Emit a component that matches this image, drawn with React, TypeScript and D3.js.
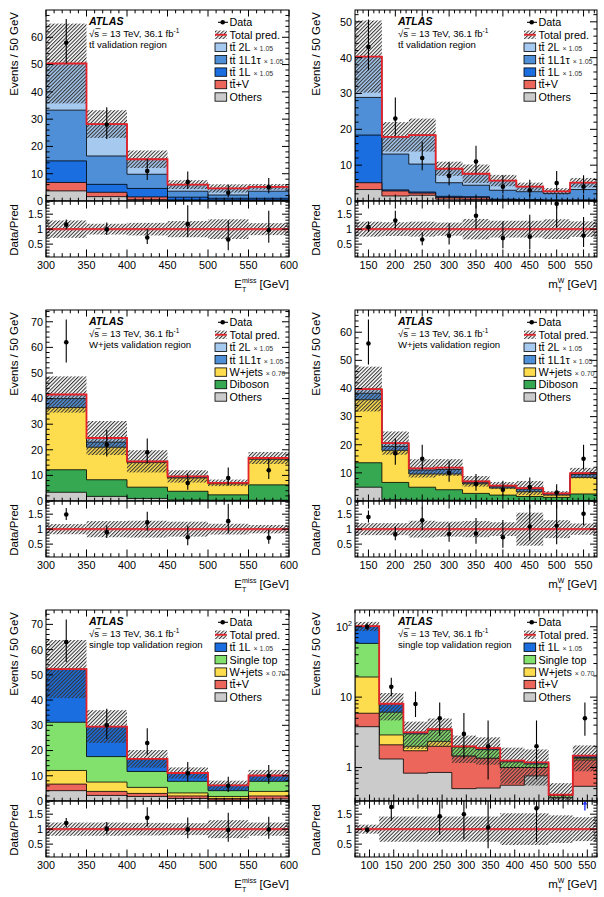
import React from 'react';
import * as d3 from 'd3';

// ---------------- Panel 1: ttbar VR, ETmiss ----------------
const p1Edges = [300, 350, 400, 450, 500, 550, 600];
const p1Others = [3.7, 1.6, 0.5, 0.1, 0.1, 0.1];
const p1TtV = [3.1, 1.6, 1.0, 0.3, 0.3, 0.3];
const p1Tt1L = [7.9, 2.9, 3.1, 1.0, 0.6, 0.6];
const p1Tt1L1tau = [18.6, 10.4, 5.2, 2.2, 1.2, 2.6];
const p1Tt2L = [17.1, 11.7, 5.5, 2.4, 2.4, 1.6];
const p1Data = [58, 28, 11, 7, 3, 5];
const p1RelUnc = [0.29, 0.18, 0.21, 0.27, 0.33, 0.2];

// ---------------- Panel 2: ttbar VR, mT^W ----------------
const p2Edges = [125, 175, 225, 275, 325, 375, 425, 475, 525, 575];
const p2Others = [3.2, 1.4, 1.6, 0.5, 0.4, 0.2, 0.1, 0.1, 0.1];
const p2TtV = [1.9, 1.4, 0.6, 0.5, 0.5, 0.1, 0.1, 0.1, 0.1];
const p2Tt1L = [13.3, 0.3, 0.3, 0.3, 0.3, 0.2, 0.2, 0.1, 0.1];
const p2Tt1L1tau = [10.5, 10.0, 7.8, 3.8, 3.2, 2.5, 2.2, 1.8, 2.9];
const p2Tt2L = [11.4, 4.8, 8.1, 3.9, 3.2, 2.7, 1.4, 0.6, 1.9];
const p2Data = [43, 23, 12, 7, 11, 4, 3, 5, 4];
const p2RelUnc = [0.25, 0.23, 0.25, 0.22, 0.34, 0.28, 0.28, 0.33, 0.26];

// ---------------- Panel 3: W+jets VR, ETmiss ----------------
const p3Edges = [300, 350, 400, 450, 500, 550, 600];
const p3Others = [3.4, 1.8, 1.0, 0.4, 0.3, 0.3];
const p3Diboson = [8.8, 6.5, 4.4, 3.4, 2.1, 6.0];
const p3Wjets = [24.3, 12.7, 9.6, 5.2, 4.3, 10.0];
const p3Tt1L1tau = [3.5, 2.0, 0.3, 0.4, 0.2, 0.3];
const p3Tt2L = [1.6, 1.6, 0.2, 0.2, 0.2, 0.2];
const p3Data = [62, 22, 19, 7, 9, 12];
const p3RelUnc = [0.17, 0.27, 0.28, 0.25, 0.18, 0.14];

// ---------------- Panel 4: W+jets VR, mT^W ----------------
const p4Edges = [125, 175, 225, 275, 325, 375, 425, 475, 525, 575];
const p4Others = [4.9, 0.5, 0.3, 0.3, 0.2, 0.1, 0.1, 0.1, 0.2];
const p4Diboson = [8.7, 6.1, 4.6, 3.7, 2.5, 2.0, 1.5, 1.2, 2.3];
const p4Wjets = [22.4, 11.4, 4.7, 5.6, 3.4, 2.5, 1.7, 0.8, 5.9];
const p4Tt1L1tau = [2.3, 1.4, 1.4, 1.6, 0.5, 0.5, 0.9, 0.4, 1.0];
const p4Tt2L = [1.5, 1.2, 0.6, 0.7, 0.4, 0.4, 0.4, 0.2, 0.5];
const p4Data = [56, 17, 15, 10, 6, 4, 5, 3, 15];
const p4RelUnc = [0.2, 0.2, 0.28, 0.25, 0.27, 0.23, 0.55, 0.3, 0.19];

// ---------------- Panel 5: single top VR, ETmiss ----------------
const p5Edges = [300, 350, 400, 450, 500, 550, 600];
const p5Others = [4.1, 2.2, 1.8, 1.0, 0.4, 0.8];
const p5TtV = [2.6, 1.6, 1.2, 1.0, 0.6, 1.2];
const p5Wjets = [5.4, 3.7, 2.4, 1.2, 0.8, 1.8];
const p5SingleTop = [19.1, 10.1, 6.3, 4.6, 2.3, 4.0];
const p5Tt1L = [21.1, 11.9, 5.0, 3.3, 2.1, 2.3];
const p5Data = [63, 30, 23, 11, 6, 10];
const p5RelUnc = [0.22, 0.22, 0.21, 0.2, 0.3, 0.22];

// ---------------- Panel 6: single top VR, mT^W (log) ----------------
const p6Edges = [70, 120, 170, 220, 270, 320, 370, 420, 470, 520, 570];
const p6Others = [3.8, 1.32, 0.83, 0.85, 0.5, 0.51, 0.56, 0.76, 0.37, 0.54];
const p6TtV = [2.1, 0.78, 0.9, 1.15, 0.95, 0.84, 0.44, 0.24, 0, 0.74];
const p6Wjets = [13.4, 0.8, 0.27, 0.35, 0, 0, 0, 0, 0, 0.07];
const p6SingleTop = [38.7, 3.2, 1.0, 1.05, 0.5, 0.44, 0.2, 0.12, 0.03, 0.03];
const p6Tt1L = [44, 1.95, 0.16, 0.1, 0.05, 0.1, 0.05, 0.06, 0.01, 0.09];
const p6Data = [100, 14, 8, 5, 3, 2, 0, 2, 0, 5];
const p6RelUnc = [0.15, 0.42, 0.42, 0.42, 0.42, 0.42, 0.53, 0.53, 0.46, 0.4];
const p6ArrowBins = [9];

// ---------------- Ticks ----------------
const metTicks = [300, 350, 400, 450, 500, 550, 600];
const mtwTicks = [150, 200, 250, 300, 350, 400, 450, 500, 550];
const mtwTicksST = [100, 150, 200, 250, 300, 350, 400, 450, 500, 550];
const yTicks60 = [0, 10, 20, 30, 40, 50, 60];
const yTicks50 = [0, 10, 20, 30, 40, 50];
const yTicks70 = [0, 10, 20, 30, 40, 50, 60, 70];
const yTicksLog = [1, 10, 100];
const ratioTicks = [0.5, 1, 1.5];

// ---------------- Colours ----------------
const COL_2L = '#a6c9f0';
const COL_1L1TAU = '#4f8fd8';
const COL_1L = '#1b6ee0';
const COL_TTV = '#ec665c';
const COL_OTHERS = '#cbcbcb';
const COL_WJETS = '#fddc4e';
const COL_DIBOSON = '#36a852';
const COL_SINGLETOP = '#82e06c';
const COL_RED = '#e3222a';

const TT = 't' + 't\u0304';

const panels = [
  {
    col: 0, row: 0, edges: p1Edges, xTicks: metTicks, xTitle: 'met', yMax: 70, yTicks: yTicks60,
    region: TT + ' validation region', data: p1Data, rel: p1RelUnc, arrows: [],
    comps: [
      { label: 'Others', color: COL_OTHERS, values: p1Others },
      { label: TT + '+V', color: COL_TTV, values: p1TtV },
      { label: TT + ' 1L', factor: '1.05', color: COL_1L, values: p1Tt1L },
      { label: TT + ' 1L1\u03c4', factor: '1.05', color: COL_1L1TAU, values: p1Tt1L1tau },
      { label: TT + ' 2L', factor: '1.05', color: COL_2L, values: p1Tt2L },
    ],
  },
  {
    col: 1, row: 0, edges: p2Edges, xTicks: mtwTicks, xTitle: 'mtw', yMax: 53.3, yTicks: yTicks50,
    region: TT + ' validation region', data: p2Data, rel: p2RelUnc, arrows: [],
    comps: [
      { label: 'Others', color: COL_OTHERS, values: p2Others },
      { label: TT + '+V', color: COL_TTV, values: p2TtV },
      { label: TT + ' 1L', factor: '1.05', color: COL_1L, values: p2Tt1L },
      { label: TT + ' 1L1\u03c4', factor: '1.05', color: COL_1L1TAU, values: p2Tt1L1tau },
      { label: TT + ' 2L', factor: '1.05', color: COL_2L, values: p2Tt2L },
    ],
  },
  {
    col: 0, row: 1, edges: p3Edges, xTicks: metTicks, xTitle: 'met', yMax: 74.6, yTicks: yTicks70,
    region: 'W+jets validation region', data: p3Data, rel: p3RelUnc, arrows: [],
    comps: [
      { label: 'Others', color: COL_OTHERS, values: p3Others },
      { label: 'Diboson', color: COL_DIBOSON, values: p3Diboson },
      { label: 'W+jets', factor: '0.70', color: COL_WJETS, values: p3Wjets },
      { label: TT + ' 1L1\u03c4', factor: '1.05', color: COL_1L1TAU, values: p3Tt1L1tau },
      { label: TT + ' 2L', factor: '1.05', color: COL_2L, values: p3Tt2L },
    ],
  },
  {
    col: 1, row: 1, edges: p4Edges, xTicks: mtwTicks, xTitle: 'mtw', yMax: 67.9, yTicks: yTicks60,
    region: 'W+jets validation region', data: p4Data, rel: p4RelUnc, arrows: [],
    comps: [
      { label: 'Others', color: COL_OTHERS, values: p4Others },
      { label: 'Diboson', color: COL_DIBOSON, values: p4Diboson },
      { label: 'W+jets', factor: '0.70', color: COL_WJETS, values: p4Wjets },
      { label: TT + ' 1L1\u03c4', factor: '1.05', color: COL_1L1TAU, values: p4Tt1L1tau },
      { label: TT + ' 2L', factor: '1.05', color: COL_2L, values: p4Tt2L },
    ],
  },
  {
    col: 0, row: 2, edges: p5Edges, xTicks: metTicks, xTitle: 'met', yMax: 75.7, yTicks: yTicks70,
    region: 'single top validation region', data: p5Data, rel: p5RelUnc, arrows: [],
    comps: [
      { label: 'Others', color: COL_OTHERS, values: p5Others },
      { label: TT + '+V', color: COL_TTV, values: p5TtV },
      { label: 'W+jets', factor: '0.70', color: COL_WJETS, values: p5Wjets },
      { label: 'Single top', color: COL_SINGLETOP, values: p5SingleTop },
      { label: TT + ' 1L', factor: '1.05', color: COL_1L, values: p5Tt1L },
    ],
  },
  {
    col: 1, row: 2, edges: p6Edges, xTicks: mtwTicksST, xTitle: 'mtw', log: true, yMin: 0.334, yMax: 173,
    yTicks: yTicksLog, region: 'single top validation region', data: p6Data, rel: p6RelUnc, arrows: p6ArrowBins,
    comps: [
      { label: 'Others', color: COL_OTHERS, values: p6Others },
      { label: TT + '+V', color: COL_TTV, values: p6TtV },
      { label: 'W+jets', factor: '0.70', color: COL_WJETS, values: p6Wjets },
      { label: 'Single top', color: COL_SINGLETOP, values: p6SingleTop },
      { label: TT + ' 1L', factor: '1.05', color: COL_1L, values: p6Tt1L },
    ],
  },
];

// ---------------- Layout ----------------
const LEFTS = [46, 355];
const RIGHTS = [289, 597];
const TOP = 10;
const MID = 201;
const BOT = 257;
const ROW_H = 300;
const FONT = "'Liberation Sans', Arial, Helvetica, sans-serif";
const YTITLE_X = [17.5, 320];

function Panel({ cfg, idx }: { cfg: any; idx: number }) {
  const L = LEFTS[cfg.col];
  const R = RIGHTS[cfg.col];
  const oy = cfg.row * ROW_H;
  const edges: number[] = cfg.edges;
  const x = d3.scaleLinear().domain([edges[0], edges[edges.length - 1]]).range([L, R]);
  const y: any = cfg.log
    ? d3.scaleLog().domain([cfg.yMin, cfg.yMax]).range([MID, TOP]).clamp(true)
    : d3.scaleLinear().domain([0, cfg.yMax]).range([MID, TOP]).clamp(true);
  const yv = (v: number) => (v <= 0 ? MID : y(v));
  const yr = d3.scaleLinear().domain([0.07, 1.94]).range([BOT, MID]).clamp(true);
  const nb = cfg.data.length;

  const cum: number[][] = [];
  let run = new Array(nb).fill(0);
  cfg.comps.forEach((c: any) => {
    run = run.map((r: number, i: number) => r + c.values[i]);
    cum.push(run);
  });
  const total = cum[cum.length - 1];

  const stepArea = (vals: number[]) => {
    let d = `M${x(edges[0])},${MID}`;
    vals.forEach((v, i) => {
      d += `L${x(edges[i])},${yv(v)}L${x(edges[i + 1])},${yv(v)}`;
    });
    d += `L${x(edges[nb])},${MID}Z`;
    return d;
  };
  const stepLine = (vals: number[]) => {
    let d = '';
    vals.forEach((v, i) => {
      d += `${i === 0 ? 'M' : 'L'}${x(edges[i])},${yv(v)}L${x(edges[i + 1])},${yv(v)}`;
    });
    return d;
  };

  const centers = d3.range(nb).map((i) => (edges[i] + edges[i + 1]) / 2);
  const errUp = (n: number) => Math.sqrt(n + 0.75) + 1;
  const errDn = (n: number) => Math.sqrt(Math.max(n - 0.25, 0));

  const d0 = edges[0];
  const d1 = edges[nb];
  const xMinor = d3.range(Math.ceil(d0 / 10) * 10, d1 + 0.001, 10).filter((v) => !cfg.xTicks.includes(v));

  let yMinor: number[] = [];
  if (cfg.log) {
    [0.1, 1, 10, 100].forEach((dec) => {
      for (let k = 2; k <= 9; k++) {
        const v = dec * k;
        if (v >= cfg.yMin && v <= cfg.yMax) yMinor.push(v);
      }
    });
  } else {
    yMinor = d3.range(0, cfg.yMax + 0.001, 2).filter((v) => v % 10 !== 0);
  }
  const rMinor = d3.range(0.1, 1.94, 0.1).filter((v) => Math.abs(v - 0.5) > 0.01 && Math.abs(v - 1) > 0.01 && Math.abs(v - 1.5) > 0.01);

  const clipId = `clipm${idx}`;
  const clipR = `clipr${idx}`;

  const legEntries: any[] = [
    { type: 'data', label: 'Data' },
    { type: 'total', label: 'Total pred.' },
    ...cfg.comps.slice().reverse().map((c: any) => ({ type: 'box', ...c })),
  ];
  const legX = L + 169;
  const legY0 = TOP + 12.3;
  const legDY = 12.45;

  const ytx = YTITLE_X[cfg.col];

  return (
    <g transform={`translate(0,${oy})`} fontFamily={FONT}>
      <defs>
        <clipPath id={clipId}>
          <rect x={L} y={TOP} width={R - L} height={MID - TOP} />
        </clipPath>
        <clipPath id={clipR}>
          <rect x={L} y={MID} width={R - L} height={BOT - MID} />
        </clipPath>
      </defs>

      <g clipPath={`url(#${clipId})`}>
        {cum
          .map((vals, k) => ({ vals, k }))
          .reverse()
          .map(({ vals, k }) => (
            <path key={k} d={stepArea(vals)} fill={cfg.comps[k].color} stroke="#000" strokeWidth={0.8} />
          ))}
        {total.map((t, i) => (
          <rect
            key={'b' + i}
            x={x(edges[i])}
            width={x(edges[i + 1]) - x(edges[i])}
            y={yv(t * (1 + cfg.rel[i]))}
            height={Math.max(0, yv(t * (1 - cfg.rel[i])) - yv(t * (1 + cfg.rel[i])))}
            fill="url(#hatch)"
          />
        ))}
        <path d={stepLine(total)} fill="none" stroke={COL_RED} strokeWidth={1.8} />
        {cfg.data.map((n: number, i: number) =>
          n > 0 ? (
            <g key={'d' + i}>
              <line x1={x(centers[i])} x2={x(centers[i])} y1={yv(n + errUp(n))} y2={yv(n - errDn(n))} stroke="#000" strokeWidth={1.1} />
              <circle cx={x(centers[i])} cy={yv(n)} r={2.3} fill="#000" />
            </g>
          ) : null
        )}
      </g>

      <g clipPath={`url(#${clipR})`}>
        {total.map((t, i) => (
          <rect
            key={'rb' + i}
            x={x(edges[i])}
            width={x(edges[i + 1]) - x(edges[i])}
            y={yr(1 + cfg.rel[i])}
            height={yr(1 - cfg.rel[i]) - yr(1 + cfg.rel[i])}
            fill="url(#hatch)"
          />
        ))}
        <line x1={L} x2={R} y1={yr(1)} y2={yr(1)} stroke={COL_RED} strokeOpacity={0.85} strokeWidth={2.4} />
        {cfg.data.map((n: number, i: number) => {
          if (n <= 0) return null;
          const r = n / total[i];
          const cx = x(centers[i]);
          if (r > 1.94) {
            if (!cfg.arrows.includes(i)) return null;
            return (
              <g key={'ra' + i}>
                <line x1={cx} x2={cx} y1={yr(1.62)} y2={yr(1.9)} stroke="#2233ff" strokeWidth={1.4} />
                <path d={`M${cx - 2.5},${yr(1.82)}L${cx},${yr(1.94)}L${cx + 2.5},${yr(1.82)}Z`} fill="#2233ff" />
              </g>
            );
          }
          return (
            <g key={'r' + i}>
              <line x1={cx} x2={cx} y1={yr(r + errUp(n) / total[i])} y2={yr(r - errDn(n) / total[i])} stroke="#000" strokeWidth={1.1} />
              <circle cx={cx} cy={yr(r)} r={2.3} fill="#000" />
            </g>
          );
        })}
      </g>

      <rect x={L} y={TOP} width={R - L} height={MID - TOP} fill="none" stroke="#000" strokeWidth={1} />
      <rect x={L} y={MID} width={R - L} height={BOT - MID} fill="none" stroke="#000" strokeWidth={1} />

      {cfg.xTicks.map((v: number) => (
        <g key={'xt' + v}>
          <line x1={x(v)} x2={x(v)} y1={TOP} y2={TOP + 6.5} stroke="#000" />
          <line x1={x(v)} x2={x(v)} y1={MID} y2={MID - 6.5} stroke="#000" />
          <line x1={x(v)} x2={x(v)} y1={MID} y2={MID + 7.5} stroke="#000" />
          <line x1={x(v)} x2={x(v)} y1={BOT} y2={BOT - 7.5} stroke="#000" />
          <text x={x(v)} y={BOT + 11.8} textAnchor="middle" fontSize={10.8}>
            {v}
          </text>
        </g>
      ))}
      {xMinor.map((v: number) => (
        <g key={'xm' + v}>
          <line x1={x(v)} x2={x(v)} y1={TOP} y2={TOP + 3.3} stroke="#000" />
          <line x1={x(v)} x2={x(v)} y1={MID} y2={MID - 3.3} stroke="#000" />
          <line x1={x(v)} x2={x(v)} y1={MID} y2={MID + 3.8} stroke="#000" />
          <line x1={x(v)} x2={x(v)} y1={BOT} y2={BOT - 3.8} stroke="#000" />
        </g>
      ))}

      {cfg.yTicks.map((v: number) => (
        <g key={'yt' + v}>
          <line x1={L} x2={L + 7} y1={y(v)} y2={y(v)} stroke="#000" />
          <line x1={R} x2={R - 7} y1={y(v)} y2={y(v)} stroke="#000" />
          <text x={L - 3} y={y(v)} dy="0.36em" textAnchor="end" fontSize={10.8}>
            {cfg.log && v === 100 ? (
              <>
                10<tspan dy={-4.5} fontSize={7}>2</tspan>
              </>
            ) : (
              v
            )}
          </text>
        </g>
      ))}
      {yMinor.map((v: number) => (
        <g key={'ym' + v}>
          <line x1={L} x2={L + 3.6} y1={y(v)} y2={y(v)} stroke="#000" />
          <line x1={R} x2={R - 3.6} y1={y(v)} y2={y(v)} stroke="#000" />
        </g>
      ))}

      {ratioTicks.map((v: number) => (
        <g key={'rt' + v}>
          <line x1={L} x2={L + 7} y1={yr(v)} y2={yr(v)} stroke="#000" />
          <line x1={R} x2={R - 7} y1={yr(v)} y2={yr(v)} stroke="#000" />
          <text x={L - 3} y={yr(v)} dy="0.36em" textAnchor="end" fontSize={10.8}>
            {v}
          </text>
        </g>
      ))}
      {rMinor.map((v: number, i: number) => (
        <g key={'rm' + i}>
          <line x1={L} x2={L + 3.6} y1={yr(v)} y2={yr(v)} stroke="#000" />
          <line x1={R} x2={R - 3.6} y1={yr(v)} y2={yr(v)} stroke="#000" />
        </g>
      ))}

      <text transform={`translate(${ytx},${TOP + 2}) rotate(-90)`} textAnchor="end" fontSize={11.5}>
        Events / 50 GeV
      </text>
      <text transform={`translate(${ytx},${MID + 3}) rotate(-90)`} textAnchor="end" fontSize={11.5}>
        Data/Pred
      </text>
      {cfg.xTitle === 'met' ? (
        <text x={R} y={BOT + 31} textAnchor="end" fontSize={11.5}>
          E<tspan dy={-5} fontSize={7}>miss</tspan>
          <tspan dx={-14.4} dy={8.5} fontSize={7}>T</tspan>
          <tspan dx={10.1} dy={-3.5}> [GeV]</tspan>
        </text>
      ) : (
        <text x={R} y={BOT + 31} textAnchor="end" fontSize={11.5}>
          m<tspan dy={-5} fontSize={7}>W</tspan>
          <tspan dx={-6.6} dy={8.5} fontSize={7}>T</tspan>
          <tspan dx={2.3} dy={-3.5}> [GeV]</tspan>
        </text>
      )}

      <text x={L + 43} y={TOP + 14.6} fontSize={10.6} fontWeight="bold" fontStyle="italic">
        ATLAS
      </text>
      <text x={L + 43} y={TOP + 27} fontSize={9.6}>
        {'\u221As = 13 TeV, 36.1 fb'}
        <tspan dy={-4} fontSize={6.5}>-1</tspan>
      </text>
      <line x1={L + 49.5} x2={L + 54.5} y1={TOP + 18.6} y2={TOP + 18.6} stroke="#000" strokeWidth={0.7} />
      <text x={L + 43} y={TOP + 37.8} fontSize={9.6}>
        {cfg.region}
      </text>

      {legEntries.map((e: any, k: number) => {
        const cy = legY0 + k * legDY;
        let sym = null;
        if (e.type === 'data') {
          sym = (
            <g>
              <line x1={legX + 3} x2={legX + 13} y1={cy} y2={cy} stroke="#000" strokeWidth={1.1} />
              <circle cx={legX + 7.7} cy={cy} r={2.3} fill="#000" />
            </g>
          );
        } else if (e.type === 'total') {
          sym = (
            <g>
              <rect x={legX} y={cy - 4.2} width={11.7} height={8.4} fill="url(#hatch)" />
              <line x1={legX} x2={legX + 11.7} y1={cy} y2={cy} stroke={COL_RED} strokeWidth={1.8} />
            </g>
          );
        } else {
          sym = <rect x={legX} y={cy - 4.2} width={11.7} height={8.4} fill={e.color} stroke="#000" strokeWidth={0.8} />;
        }
        return (
          <g key={'l' + k}>
            {sym}
            <text x={legX + 14.5} y={cy + 3.9} fontSize={10.8}>
              {e.label}
              {e.factor ? (
                <tspan fontSize={7} fill="#333" dx={3}>
                  {'\u00d7 ' + e.factor}
                </tspan>
              ) : null}
            </text>
          </g>
        );
      })}
    </g>
  );
}

export default function App() {
  return (
    <svg width={604} height={897} style={{ position: 'absolute', left: 0, top: 0, background: '#fff' }}>
      <defs>
        <pattern id="hatch" patternUnits="userSpaceOnUse" width={2.6} height={2.6} patternTransform="rotate(45)">
          <rect x={0} y={0} width={1.05} height={2.6} fill="#333" />
        </pattern>
      </defs>
      <rect x={0} y={0} width={604} height={897} fill="#fff" />
      {panels.map((p, i) => (
        <Panel key={i} cfg={p} idx={i} />
      ))}
    </svg>
  );
}
